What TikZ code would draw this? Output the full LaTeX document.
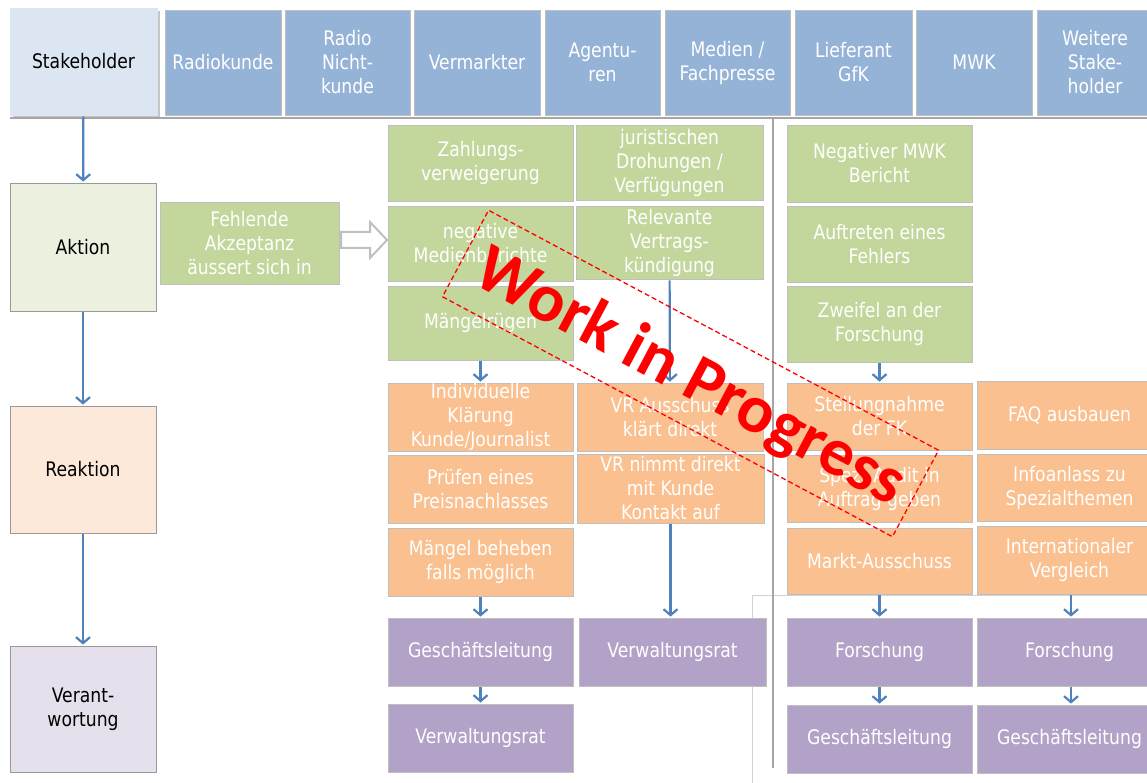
\documentclass[tikz,border=0pt]{standalone}
\usepackage{fontspec}
\setmainfont{DejaVu Sans}[FakeStretch=0.86]
\newfontfamily\wmfont{Carlito}
\usetikzlibrary{arrows.meta}
\definecolor{hblue}{HTML}{95B3D7}
\definecolor{shblue}{HTML}{DCE6F2}
\definecolor{greenbox}{HTML}{C3D69B}
\definecolor{aklight}{HTML}{EBF1DE}
\definecolor{orangebox}{HTML}{FAC090}
\definecolor{relight}{HTML}{FDE9D9}
\definecolor{purplebox}{HTML}{B3A2C7}
\definecolor{velight}{HTML}{E6E0EC}
\definecolor{arrowblue}{HTML}{4F81BD}
\definecolor{bordergray}{HTML}{BFBFBF}
\newcommand\bx[7]{%
  \pgfmathsetmacro\bxw{#5-#3}\pgfmathsetmacro\bxh{#6-#4}%
  \pgfmathsetmacro\bxcx{(#3+#5)/2}\pgfmathsetmacro\bxcy{(#4+#6)/2}%
  \node[#2, minimum width=\bxw pt, minimum height=\bxh pt] (#1) at (\bxcx,\bxcy) {#7};}
\begin{document}
\begin{tikzpicture}[x=1pt,y=-1pt,
  box/.style={draw=bordergray, line width=0.8pt, inner sep=0pt, align=center,
    text=white, font=\fontsize{20}{24}\selectfont},
  hbox/.style={box, fill=hblue},
  gbox/.style={box, fill=greenbox},
  obox/.style={box, fill=orangebox},
  pbox/.style={box, fill=purplebox},
  lbox/.style={box, text=black, draw=bordergray!80!black},
  arr/.style={draw=arrowblue, line width=2.2pt, -{Straight Barb[length=6pt,width=14pt,line width=2.2pt]}, shorten <=1pt, shorten >=1pt},
  sepline/.style={draw=gray!70, line width=1.8pt}]
\useasboundingbox[fill=white] (0,0) rectangle (1147,783);
% header
\fill[gray!45] (13,11) rectangle (160,118);
\bx{sh}{lbox, fill=shblue, draw=shblue}{10}{8}{157}{115}{Stakeholder}
\bx{h1}{hbox}{165}{10}{281}{115}{Radiokunde}
\bx{h2}{hbox}{285}{10}{410}{115}{Radio\\Nicht-\\kunde}
\bx{h3}{hbox}{414}{10}{540}{115}{Vermarkter}
\bx{h4}{hbox}{545}{10}{660}{115}{Agentu-\\ren}
\bx{h5}{hbox}{665}{10}{790}{115}{Medien /\\Fachpresse}
\bx{h6}{hbox}{795}{10}{912}{115}{Lieferant\\GfK}
\bx{h7}{hbox}{916}{10}{1032}{115}{MWK}
\bx{h8}{hbox}{1037}{10}{1153}{115}{Weitere\\Stake-\\holder}
\draw[sepline] (10,118) -- (1147,118);
% left column
\bx{ak}{lbox, fill=aklight}{10}{183}{156}{311}{Aktion}
\bx{re}{lbox, fill=relight}{10}{406}{156}{533}{Reaktion}
\bx{ve}{lbox, fill=velight}{10}{646}{156}{772}{Verant-\\wortung}
\bx{fa}{gbox}{160}{202}{339}{284}{Fehlende\\Akzeptanz\\äussert sich in}
\draw[bordergray, line width=2pt, fill=white, line join=miter]
  (341,232) -- (370,232) -- (370,222) -- (387,240) -- (370,258) -- (370,248) -- (341,248) -- cycle;
% green
\bx{g11}{gbox}{388}{125}{573}{201}{Zahlungs-\\verweigerung}
\bx{g12}{gbox}{388}{206}{573}{281}{negative\\Medienberichte}
\bx{g13}{gbox}{388}{286}{573}{360}{Mängelrügen}
\bx{g21}{gbox}{576}{125}{763}{200}{juristischen\\Drohungen /\\Verfügungen}
\bx{g22}{gbox}{576}{206}{763}{279}{Relevante\\Vertrags-\\kündigung}
\bx{g31}{gbox}{787}{125}{972}{202}{Negativer MWK\\Bericht}
\bx{g32}{gbox}{787}{206}{972}{282}{Auftreten eines\\Fehlers}
\bx{g33}{gbox}{787}{286}{972}{362}{Zweifel an der\\Forschung}
% orange
\bx{o11}{obox}{388}{383}{573}{451}{Individuelle\\Klärung\\Kunde/Journalist}
\bx{o12}{obox}{388}{455}{573}{523}{Prüfen eines\\Preisnachlasses}
\bx{o13}{obox}{388}{528}{573}{596}{Mängel beheben\\falls möglich}
\bx{o21}{obox}{577}{383}{763}{451}{VR Ausschuss\\klärt direkt}
\bx{o22}{obox}{577}{454}{764}{523}{VR nimmt direkt\\mit Kunde\\Kontakt auf}
\bx{o31}{obox}{787}{383}{972}{450}{Stellungnahme\\der FK}
\bx{o32}{obox}{787}{455}{972}{522}{Spez. Audit in\\Auftrag geben}
\bx{o33}{obox}{787}{528}{972}{594}{Markt-Ausschuss}
\bx{o41}{obox}{977}{381}{1162}{449}{FAQ ausbauen}
\bx{o42}{obox}{977}{454}{1162}{521}{Infoanlass zu\\Spezialthemen}
\bx{o43}{obox}{977}{526}{1162}{594}{Internationaler\\Vergleich}
% overlay frame
\draw[gray!35, line width=0.8pt, fill=white] (752,800) -- (752,595) -- (1160,595);
% purple
\bx{p1}{pbox}{388}{618}{573}{686}{Geschäftsleitung}
\bx{p2}{pbox}{388}{704}{573}{772}{Verwaltungsrat}
\bx{p3}{pbox}{579}{618}{766}{686}{Verwaltungsrat}
\bx{p4}{pbox}{787}{618}{972}{686}{Forschung}
\bx{p5}{pbox}{977}{618}{1162}{686}{Forschung}
\bx{p6}{pbox}{787}{705}{972}{773}{Geschäftsleitung}
\bx{p7}{pbox}{977}{705}{1162}{773}{Geschäftsleitung}
\draw[sepline] (773,118) -- (773,768);
% arrows
\draw[arr] (sh) -- (ak);
\draw[arr] (ak) -- (re);
\draw[arr] (re) -- (ve);
\draw[arr] (g13) -- (o11);
\draw[arr] (g22) -- (o21);
\draw[arr] (g33) -- (o31);
\draw[arr] (o13) -- (p1);
\draw[arr] (p1) -- (p2);
\draw[arr] (o22.south) -- (o22.south |- p3.north);
\draw[arr] (o33.south) -- (o33.south |- p4.north);
\draw[arr] (o43.south -| 1071,0) -- (p5.north -| 1071,0);
\draw[arr] (p4) -- (p6);
\draw[arr] (p5.south -| 1071,0) -- (p7.north -| 1071,0);
% watermark
\node[draw=red, dash pattern=on 5pt off 3pt, line width=1.3pt, rotate=-28.07,
  minimum width=510pt, minimum height=98pt, inner sep=0pt] (wm) at (690.5,373.5) {};
\node[rotate=-28.07, text=red, inner sep=0pt,
  font=\wmfont\bfseries\fontsize{68}{68}\selectfont] (wmt) at ([shift={(-1,5)}]wm.center) {Work in Progress};
\end{tikzpicture}
\end{document}
